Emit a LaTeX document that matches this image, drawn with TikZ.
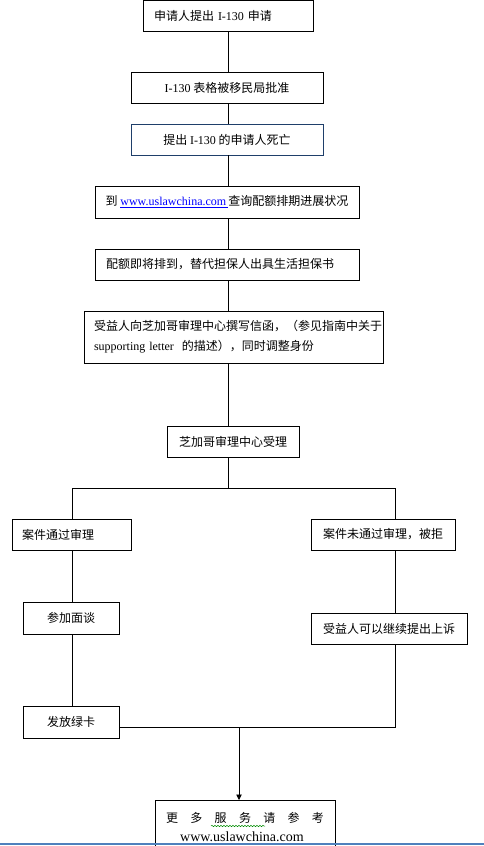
\documentclass[tikz,border=0pt]{standalone}
\usepackage{fontspec}
\setmainfont{Liberation Serif}
\newfontfamily\cjk{Noto Sans CJK SC}
\newfontfamily\tnr{Liberation Serif}
\usetikzlibrary{arrows.meta,calc,decorations.pathmorphing}
\definecolor{navy}{HTML}{1F3F6A}
\definecolor{linkblue}{HTML}{0000FF}
\definecolor{pageblue}{HTML}{4F81BD}

\begin{document}
\begin{tikzpicture}[
  x=1pt, y=-1pt,
  box/.style={draw, line width=0.9pt, inner sep=0pt, minimum height=31pt, align=center,
    font=\cjk\fontsize{12pt}{20pt}\selectfont},
  lbox/.style={box, inner xsep=11pt, align=left},
  link/.style={line width=0.9pt},
  arrow/.style={-{Triangle[width=5.5pt,length=5.5pt]}, line width=0.9pt},
]
\clip (0,0) rectangle (484,846);

% ====== Main chain ======
\coordinate (spine) at (228,0);
\node[lbox, text width=148pt] (b1) at (228,15.5) {申请人提出 {\tnr I-130} 申请};
\node[box, minimum width=192pt] (b2) at (227,87.5) {{\tnr I-130} 表格被移民局批准};
\node[box, minimum width=192pt, draw=navy] (b3) at (227,139.5) {提出 {\tnr I-130} 的申请人死亡};
\node[box, minimum width=264pt, minimum height=32pt] (b4) at (227,202)
  {到 \textcolor{linkblue}{\underline{\tnr www.uslawchina.com\,}}查询配额排期进展状况};
\node[lbox, text width=242pt] (b5) at (227,264.5) {配额即将排到，替代担保人出具生活担保书};
\node[lbox, inner xsep=10pt, text width=279pt, minimum height=52pt] (b6) at (233.5,337)
  {受益人向芝加哥审理中心撰写信函，（参见指南中关于\\{\tnr supporting letter}\hspace{8pt}的描述），同时调整身份};
\node[box, minimum width=132pt] (b7) at (233,441.5) {芝加哥审理中心受理};

\draw[link] (b1.south -| spine) -- (spine |- b2.north);
\draw[link] (b2.south -| spine) -- (spine |- b3.north);
\draw[link] (b3.south -| spine) -- (spine |- b4.north);
\draw[link] (b4.south -| spine) -- (spine |- b5.north);
\draw[link] (b5.south -| spine) -- (spine |- b6.north);
\draw[link] (b6.south -| spine) -- (spine |- b7.north);

% ====== Two branches ======
\coordinate (splitL) at (72,488);
\coordinate (splitR) at (395,488);
\node[lbox, inner xsep=10pt, text width=99pt] (b8) at (71.5,534.5) {案件通过审理};
\node[box, minimum width=144pt] (b9) at (383,534.5) {案件未通过审理，被拒};
\node[box, minimum width=96pt, minimum height=32pt] (b10) at (71,618) {参加面谈};
\node[box, minimum width=156pt] (b11) at (389,628.5) {受益人可以继续提出上诉};
\node[box, minimum width=96pt, minimum height=32pt] (b12) at (71,722) {发放绿卡};

\draw[link] (b7.south -| spine) -- (spine |- splitL);
\draw[link] (splitL |- b8.north) -- (splitL) -- (splitR) -- (splitR |- b9.north);
\draw[link] (splitL |- b8.south) -- (splitL |- b10.north);
\draw[link] (splitL |- b10.south) -- (splitL |- b12.north);
\draw[link] (splitR |- b9.south) -- (splitR |- b11.north);

% ====== Merge ======
\coordinate (joinR) at (395,727);
\coordinate (join) at (239,727);
\node[box, anchor=north, minimum width=180pt, minimum height=70pt, text depth=0pt] (b13) at (245,800) {};
\node[font=\cjk\fontsize{12pt}{14pt}\selectfont] (more) at (245,818)
  {更\hspace{12.3pt}多\hspace{12.3pt}服\hspace{12.3pt}务\hspace{12.3pt}请\hspace{12.3pt}参\hspace{12.3pt}考};
\node[font=\tnr\fontsize{14pt}{16pt}\selectfont, inner sep=0pt] (url) at (242,837) {www.uslawchina.com};
\draw[green!55!black, line width=0.5pt, decorate, decoration={snake, amplitude=0.7pt, segment length=3pt}]
  (211,826) -- (265,826);

\draw[link] (splitR |- b11.south) -- (joinR) -- (b12.east |- joinR);
\draw[arrow] (join) -- (join |- b13.north);

% ====== Page edge ======
\draw[pageblue, line width=1.4pt] (0,844) -- (484,844);

\end{tikzpicture}
\end{document}
